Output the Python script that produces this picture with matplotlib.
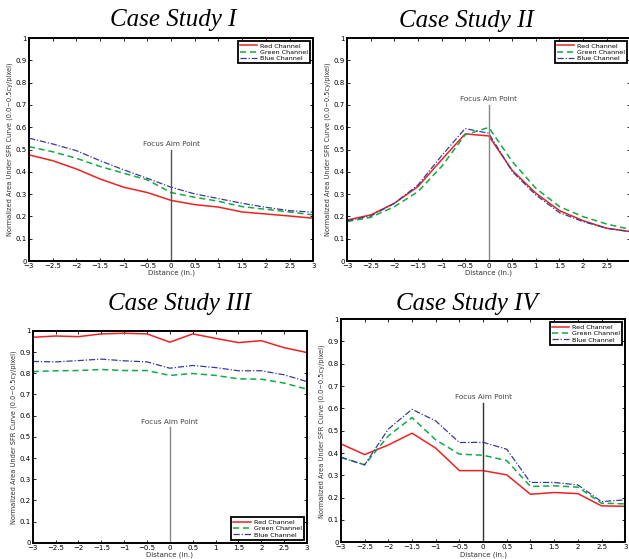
import numpy as np
import matplotlib.pyplot as plt

# distance positions (in.)
distance = [-3, -2.5, -2, -1.5, -1, -0.5, 0, 0.5, 1, 1.5, 2, 2.5, 3]

# Case Study I
red_1 = [0.476, 0.450, 0.413, 0.368, 0.331, 0.307, 0.272, 0.253, 0.242, 0.220, 0.211, 0.202, 0.192]
green_1 = [0.513, 0.490, 0.461, 0.424, 0.394, 0.364, 0.307, 0.286, 0.268, 0.244, 0.232, 0.220, 0.207]
blue_1 = [0.551, 0.525, 0.495, 0.450, 0.409, 0.371, 0.331, 0.301, 0.280, 0.259, 0.241, 0.226, 0.219]

# Case Study II
red_2 = [0.184, 0.207, 0.259, 0.334, 0.454, 0.570, 0.561, 0.406, 0.304, 0.226, 0.181, 0.147, 0.132]
green_2 = [0.177, 0.196, 0.244, 0.311, 0.424, 0.566, 0.599, 0.446, 0.326, 0.244, 0.199, 0.166, 0.142]
blue_2 = [0.181, 0.202, 0.259, 0.341, 0.472, 0.594, 0.573, 0.401, 0.296, 0.217, 0.177, 0.147, 0.132]

# Case Study III
red_3 = [0.970, 0.976, 0.973, 0.986, 0.989, 0.986, 0.947, 0.986, 0.965, 0.945, 0.954, 0.921, 0.898]
green_3 = [0.808, 0.812, 0.813, 0.818, 0.813, 0.813, 0.790, 0.799, 0.790, 0.774, 0.772, 0.754, 0.725]
blue_3 = [0.856, 0.854, 0.860, 0.867, 0.859, 0.854, 0.824, 0.837, 0.827, 0.812, 0.812, 0.793, 0.761]

# Case Study IV
red_4 = [0.441, 0.393, 0.436, 0.489, 0.422, 0.321, 0.321, 0.302, 0.215, 0.223, 0.218, 0.163, 0.161]
green_4 = [0.381, 0.347, 0.477, 0.559, 0.459, 0.395, 0.390, 0.366, 0.250, 0.253, 0.247, 0.175, 0.172]
blue_4 = [0.380, 0.347, 0.507, 0.596, 0.544, 0.447, 0.448, 0.417, 0.268, 0.268, 0.257, 0.182, 0.190]

titles = ['Case Study I', 'Case Study II', 'Case Study III', 'Case Study IV']
xtick_labels = ['\u22123', '\u22122.5', '\u22122', '\u22121.5', '\u22121', '\u22120.5',
                '0', '0.5', '1', '1.5', '2', '2.5', '3']
# height of the focus aim point marker in each panel
aim_top = [0.50, 0.70, 0.545, 0.625]
aim_color = ['#555555', '#888888', '#888888', '#333333']
legend_loc = ['upper right', 'upper right', 'lower right', 'upper right']

# axes rectangles [left, bottom, width, height] in figure fractions
rects = [[0.046, 0.533, 0.452, 0.399],
         [0.552, 0.533, 0.450, 0.399],
         [0.052, 0.029, 0.436, 0.379],
         [0.542, 0.030, 0.452, 0.399]]
# title centre (x, y) in figure fractions
title_pos = [(0.275, 0.965), (0.742, 0.962), (0.286, 0.456), (0.742, 0.456)]

data = [(red_1, green_1, blue_1), (red_2, green_2, blue_2),
        (red_3, green_3, blue_3), (red_4, green_4, blue_4)]

fig = plt.figure(figsize=(6.29, 5.59), dpi=100)

for k in range(4):
    ax = fig.add_axes(rects[k])
    red, green, blue = data[k]
    ax.plot(distance, red, color='#ee2222', lw=1.1, label='Red Channel')
    ax.plot(distance, green, color='#11aa44', lw=1.1, ls=(0, (4, 2.5)), label='Green Channel')
    ax.plot(distance, blue, color='#3a3a9a', lw=0.9, ls=(0, (5, 1.5, 1, 1.5)), label='Blue Channel')
    ax.plot([0, 0], [0, aim_top[k]], color=aim_color[k], lw=1.0)
    ax.text(0, aim_top[k] + 0.012, 'Focus Aim Point', ha='center', va='bottom',
            fontsize=5.2, color='#444444')

    ax.set_xlim(-3, 3)
    ax.set_ylim(0, 1)
    ax.set_xticks(distance)
    labels = list(xtick_labels)
    if k == 1:
        labels[-1] = ''  # the last label falls off the page edge in this panel
    ax.set_xticklabels(labels)
    ax.set_yticks(np.arange(0, 1.01, 0.1))
    ax.set_yticklabels(['0', '0.1', '0.2', '0.3', '0.4', '0.5', '0.6', '0.7', '0.8', '0.9', '1'])
    ax.tick_params(direction='in', length=2.5, width=0.6, labelsize=5, pad=1.5,
                   top=True, right=True, color='black')
    for s in ax.spines.values():
        s.set_linewidth(1.4)
    ax.set_xlabel('Distance (in.)', fontsize=5, labelpad=0.5, color='#333333')
    ax.set_ylabel('Normalized Area Under SFR Curve (0.0~0.5cy/pixel)', fontsize=4.8,
                  labelpad=2, color='#333333')

    leg = ax.legend(loc=legend_loc[k], fontsize=4.6, fancybox=False, framealpha=1,
                    handlelength=2.8, handletextpad=0.4, borderpad=0.3, labelspacing=0.15,
                    borderaxespad=0.5)
    leg.get_frame().set_edgecolor('black')
    leg.get_frame().set_linewidth(1.3)

    fig.text(title_pos[k][0], title_pos[k][1], titles[k], ha='center', va='center',
             fontsize=18, family='Liberation Serif', style='italic')

fig.savefig('out.png', dpi=100)
